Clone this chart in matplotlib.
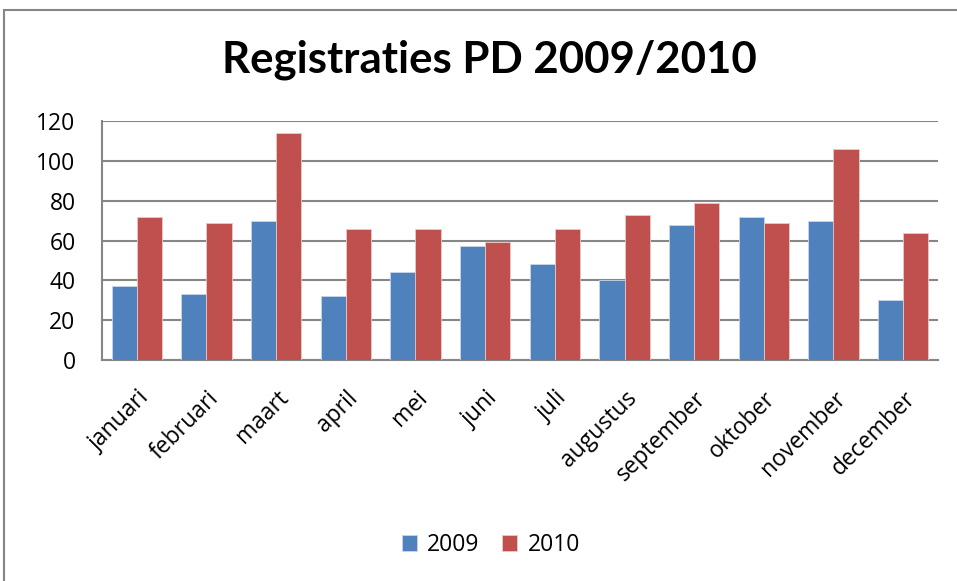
import matplotlib
matplotlib.use("Agg")
import matplotlib.pyplot as plt
import numpy as np
from matplotlib.patches import Rectangle

months = ["januari", "februari", "maart", "april", "mei", "juni", "juli",
          "augustus", "september", "oktober", "november", "december"]
series_names = ["2009", "2010"]
values_2009 = [37, 33, 70, 32, 44, 57, 48, 40, 68, 72, 70, 30]
values_2010 = [72, 69, 114, 66, 66, 59, 66, 73, 79, 69, 106, 64]
yticks = [0, 20, 40, 60, 80, 100, 120]
title = "Registraties PD 2009/2010"

plt.rcParams['font.family'] = ['Open Sans', 'DejaVu Sans']

W, H = 957, 581
fig = plt.figure(figsize=(W / 100, H / 100), dpi=100)
fig.patch.set_facecolor("white")

# outer chart border (cut off at right and bottom as in the reference)
fig.add_artist(Rectangle((4 / W, -0.2), 1.2, 1.2 - 10 / H, transform=fig.transFigure,
                         fill=False, edgecolor="#868686", linewidth=1.5))

left, right, top, bottom = 102, 938, 121, 360
ax = fig.add_axes([left / W, 1 - bottom / H, (right - left) / W, (bottom - top) / H])

x = np.arange(len(months))
w = 0.363
ax.bar(x - w / 2, values_2009, w, color="#4F81BD", edgecolor="#c9d6ea", linewidth=0.6,
       label=series_names[0], zorder=3)
ax.bar(x + w / 2, values_2010, w, color="#C0504D", edgecolor="#ecc9c8", linewidth=0.6,
       label=series_names[1], zorder=3)

ax.set_xlim(-0.5, len(months) - 0.5)
ax.set_ylim(0, 120)
ax.set_yticks(yticks)
ax.set_yticklabels([str(t) for t in yticks], fontsize=16.5)
ax.yaxis.grid(True, color="#868686", linewidth=1.5, zorder=0)
ax.set_axisbelow(True)
ax.set_xticks(x)
ax.set_xticklabels(months, rotation=45, ha="right", rotation_mode="anchor", fontsize=16.5)
ax.tick_params(axis="x", length=0, pad=19)
ax.tick_params(axis="y", length=0, pad=19)
for s in ["top", "right"]:
    ax.spines[s].set_visible(False)
for s in ["left", "bottom"]:
    ax.spines[s].set_color("#868686")
    ax.spines[s].set_linewidth(1.5)

fig.text(489 / W, 1 - 60 / H, title, ha="center", va="center", fontsize=31.5,
         fontweight="bold", family=["Lato", "DejaVu Sans"])

fig.legend(loc="center", bbox_to_anchor=(491 / W, 1 - 545 / H), ncol=2, frameon=False,
           fontsize=16.5, handlelength=0.65, handleheight=0.65, handletextpad=0.45,
           columnspacing=1.0)

fig.savefig("out.png", dpi=100)
